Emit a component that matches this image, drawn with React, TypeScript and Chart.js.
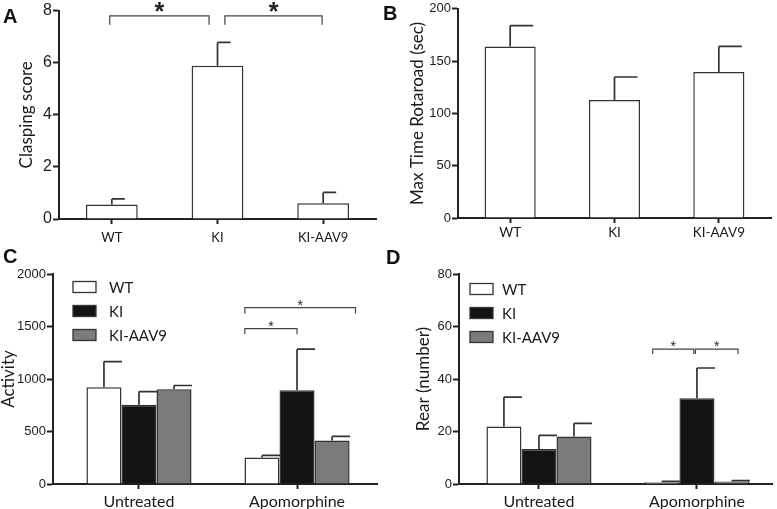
import React, { useEffect, useRef } from "react";
import { Chart, registerables } from "chart.js";

Chart.register(...registerables);

// ---------- data ----------
const groups = ["WT", "KI", "KI-AAV9"];
const claspingMean = [0.56, 5.88, 0.6];
const claspingSem = [0.21, 0.9, 0.42];
const rotarodMean = [164, 112.8, 139.6];
const rotarodSem = [20, 22, 24.4];

const treatments = ["Untreated", "Apomorphine"];
const activityWT = [922, 253];
const activityKI = [754, 894];
const activityAAV = [903, 415];
const activityWTSem = [244, 19];
const activityKISem = [126, 390];
const activityAAVSem = [35, 38];

const rearWT = [21.9, 0.7];
const rearKI = [13.3, 32.7];
const rearAAV = [18.1, 1.0];
const rearWTSem = [11.2, 0.3];
const rearKISem = [5.2, 11.5];
const rearAAVSem = [5.0, 0.3];

// axis ranges
const claspingTicks = { max: 8, step: 2 };
const rotarodTicks = { max: 200, step: 50 };
const activityTicks = { max: 2000, step: 500 };
const rearTicks = { max: 80, step: 20 };

// significance brackets (data units)
const bracketsA = [
  { from: -0.02, to: 0.92, y: 7.8, drop: 7.46 },
  { from: 1.07, to: 1.99, y: 7.8, drop: 7.46 },
];
const bracketsC = [
  { from: 0.67, to: 1.0, y: 1480, drop: 1428 },
  { from: 0.67, to: 1.37, y: 1680, drop: 1625 },
];
const bracketsD = [
  { from: 0.72, to: 0.98, y: 51.4, drop: 49.5 },
  { from: 0.99, to: 1.26, y: 51.4, drop: 49.5 },
];

// ---------- styles ----------
const TICK_FONT = "'Liberation Sans', Arial, sans-serif";
const LABEL_FONT = "Lato, 'Open Sans', sans-serif";
const AXIS = "#222222";
const OUTLINE = "#333333";
const WHITE = "#ffffff";
const BLACK = "#141414";
const GRAY = "#7b7b7b";

// ---------- plugins ----------
const errorBarPlugin = {
  id: "errorBars",
  afterDatasetsDraw(chart: any, _args: any, opts: any) {
    const { ctx } = chart;
    const ys = chart.scales.y;
    ctx.save();
    ctx.strokeStyle = opts.color || OUTLINE;
    ctx.lineWidth = opts.width || 1.7;
    chart.data.datasets.forEach((ds: any, di: number) => {
      const meta = chart.getDatasetMeta(di);
      const errs = ds.errors || [];
      meta.data.forEach((bar: any, i: number) => {
        const err = errs[i];
        if (!err) return;
        const raw = ds.data[i];
        const v = typeof raw === "number" ? raw : raw.y;
        const yTop = ys.getPixelForValue(v + err);
        const x = bar.x;
        ctx.beginPath();
        ctx.moveTo(x, bar.y);
        ctx.lineTo(x, yTop);
        ctx.moveTo(x - (opts.capLeft || 0), yTop);
        ctx.lineTo(x + opts.capRight, yTop);
        ctx.stroke();
      });
    });
    ctx.restore();
  },
};

const bracketPlugin = {
  id: "brackets",
  afterDraw(chart: any, _args: any, opts: any) {
    if (!opts.items) return;
    const { ctx } = chart;
    const xs = chart.scales.x;
    const ys = chart.scales.y;
    ctx.save();
    ctx.strokeStyle = "#444";
    ctx.lineWidth = 1.2;
    ctx.fillStyle = "#222";
    ctx.font = opts.starFont;
    ctx.textAlign = "center";
    ctx.textBaseline = "alphabetic";
    for (const b of opts.items) {
      const x1 = xs.getPixelForValue(b.from);
      const x2 = xs.getPixelForValue(b.to);
      const y = ys.getPixelForValue(b.y);
      const yd = ys.getPixelForValue(b.drop);
      ctx.beginPath();
      ctx.moveTo(x1, yd);
      ctx.lineTo(x1, y);
      ctx.lineTo(x2, y);
      ctx.lineTo(x2, yd);
      ctx.stroke();
      ctx.fillText("*", (x1 + x2) / 2, y + opts.starDy);
    }
    ctx.restore();
  },
};

const boxLegendPlugin = {
  id: "boxLegend",
  afterDraw(chart: any, _args: any, opts: any) {
    if (!opts.show) return;
    const { ctx, chartArea } = chart;
    ctx.save();
    ctx.font = opts.font;
    ctx.textBaseline = "middle";
    ctx.textAlign = "left";
    chart.data.datasets.forEach((ds: any, i: number) => {
      const x = chartArea.left + opts.dx;
      const cy = chartArea.top + opts.dy + i * opts.spacing;
      ctx.fillStyle = ds.backgroundColor;
      ctx.fillRect(x, cy - opts.boxH / 2, opts.boxW, opts.boxH);
      ctx.strokeStyle = OUTLINE;
      ctx.lineWidth = 1.3;
      ctx.strokeRect(x, cy - opts.boxH / 2, opts.boxW, opts.boxH);
      ctx.fillStyle = "#1a1a1a";
      ctx.fillText(ds.label, x + opts.boxW + opts.gap, cy + 1);
    });
    ctx.restore();
  },
};

// ---------- helpers ----------
function yAxis(cfg: {
  max: number;
  step: number;
  title: string;
  tickSize: number;
  titlePad: number;
  width: number;
}) {
  return {
    min: 0,
    max: cfg.max,
    ticks: {
      stepSize: cfg.step,
      color: "#1a1a1a",
      padding: 1,
      font: { family: TICK_FONT, size: cfg.tickSize },
      callback: (v: any) => String(v),
    },
    grid: {
      drawOnChartArea: false,
      drawTicks: true,
      tickLength: 6,
      tickWidth: 2,
      tickColor: AXIS,
    },
    border: { display: true, color: AXIS, width: 2 },
    title: {
      display: true,
      text: cfg.title,
      color: "#1a1a1a",
      font: { family: LABEL_FONT, size: 17, lineHeight: 1 },
      padding: { top: cfg.titlePad, bottom: 0 },
    },
    afterFit: (s: any) => {
      s.width = cfg.width;
    },
  };
}

function xTickCommon(size: number, pad: number, height: number) {
  return {
    grid: {
      offset: false,
      drawOnChartArea: false,
      drawTicks: true,
      tickLength: 5,
      tickWidth: 2,
      tickColor: AXIS,
    },
    border: { display: true, color: AXIS, width: 2 },
    afterFit: (s: any) => {
      s.height = height;
    },
    ticksBase: {
      color: "#1a1a1a",
      padding: pad,
      maxRotation: 0,
      autoSkip: false,
      font: { family: LABEL_FONT, size: size },
    },
  };
}

function configSingle(
  labels: string[],
  mean: number[],
  sem: number[],
  yc: any,
  layoutPad: any,
  xHeight: number,
  xFont: number,
  xPad: number,
  capRight: number,
  brackets: any[] | null,
  starFont: string,
  starDy: number
) {
  const xc = xTickCommon(xFont, xPad, xHeight);
  return {
    type: "bar",
    data: {
      labels,
      datasets: [
        {
          label: "mean",
          data: mean,
          errors: sem,
          backgroundColor: WHITE,
          borderColor: OUTLINE,
          borderWidth: 1.5,
          categoryPercentage: 0.5,
          barPercentage: 0.98,
        },
      ],
    },
    options: {
      animation: false,
      responsive: false,
      devicePixelRatio: 1,
      layout: { padding: layoutPad },
      plugins: {
        legend: { display: false },
        tooltip: { enabled: false },
        errorBars: { capRight, color: OUTLINE, width: 1.7 },
        brackets: { items: brackets, starFont, starDy },
        boxLegend: { show: false },
      },
      scales: {
        x: {
          type: "category",
          offset: true,
          grid: xc.grid,
          border: xc.border,
          ticks: xc.ticksBase,
          afterFit: xc.afterFit,
        },
        y: yc,
      },
    },
    plugins: [errorBarPlugin, bracketPlugin, boxLegendPlugin],
  };
}

function configGrouped(
  series: { label: string; color: string; values: number[]; sem: number[] }[],
  xMin: number,
  xMax: number,
  yc: any,
  layoutPad: any,
  legend: any,
  brackets: any[],
  starDy: number
) {
  const xc = xTickCommon(16, 3, 25);
  return {
    type: "bar",
    data: {
      datasets: series.map((s) => ({
        label: s.label,
        data: s.values.map((v, i) => ({ x: i, y: v })),
        errors: s.sem,
        backgroundColor: s.color,
        borderColor: OUTLINE,
        borderWidth: 1.5,
        categoryPercentage: 0.665,
        barPercentage: 1,
      })),
    },
    options: {
      animation: false,
      responsive: false,
      devicePixelRatio: 1,
      layout: { padding: layoutPad },
      plugins: {
        legend: { display: false },
        tooltip: { enabled: false },
        errorBars: { capRight: 18, color: OUTLINE, width: 1.7 },
        brackets: { items: brackets, starFont: `14px ${TICK_FONT}`, starDy },
        boxLegend: legend,
      },
      scales: {
        x: {
          type: "linear",
          min: xMin,
          max: xMax,
          offset: false,
          grid: xc.grid,
          border: xc.border,
          afterFit: xc.afterFit,
          ticks: {
            ...xc.ticksBase,
            stepSize: 1,
            includeBounds: false,
            callback: (v: any) => {
              const i = Math.round(Number(v));
              return Math.abs(Number(v) - i) < 1e-6 && i >= 0 && i < treatments.length
                ? treatments[i]
                : "";
            },
          },
        },
        y: yc,
      },
    },
    plugins: [errorBarPlugin, bracketPlugin, boxLegendPlugin],
  };
}

// ---------- components ----------
function Panel(props: { left: number; top: number; width: number; height: number; make: () => any }) {
  const ref = useRef<HTMLCanvasElement | null>(null);
  useEffect(() => {
    const chart = new Chart(ref.current as HTMLCanvasElement, props.make());
    return () => chart.destroy();
  }, []);
  return (
    <canvas
      ref={ref}
      width={props.width}
      height={props.height}
      style={{
        position: "absolute",
        left: props.left,
        top: props.top,
        width: props.width,
        height: props.height,
      }}
    />
  );
}

function Letter(props: { text: string; left: number; top: number }) {
  return (
    <div
      style={{
        position: "absolute",
        left: props.left,
        top: props.top,
        fontFamily: TICK_FONT,
        fontWeight: "bold",
        fontSize: 20,
        lineHeight: "20px",
        color: "#111",
      }}
    >
      {props.text}
    </div>
  );
}

const legendC = { show: true, dx: 20, dy: 13, spacing: 24, boxW: 23, boxH: 11, gap: 13, font: `15px ${LABEL_FONT}` };
const legendD = { show: true, dx: 11, dy: 15, spacing: 24, boxW: 23, boxH: 11, gap: 9, font: `15px ${LABEL_FONT}` };

export default function App() {
  return (
    <div
      style={{
        position: "absolute",
        left: 0,
        top: 0,
        width: 777,
        height: 509,
        background: "#ffffff",
        overflow: "hidden",
      }}
    >
      <Panel
        left={0}
        top={0}
        width={388}
        height={250}
        make={() =>
          configSingle(
            groups,
            claspingMean,
            claspingSem,
            yAxis({ ...claspingTicks, title: "Clasping score", tickSize: 16, titlePad: 18.5, width: 59 }),
            { left: 0, top: 10, right: 12, bottom: 0 },
            31,
            13,
            6,
            13,
            bracketsA,
            `bold 25px ${TICK_FONT}`,
            4
          )
        }
      />
      <Panel
        left={388}
        top={0}
        width={389}
        height={250}
        make={() =>
          configSingle(
            groups,
            rotarodMean,
            rotarodSem,
            yAxis({ ...rotarodTicks, title: "Max Time Rotaroad (sec)", tickSize: 13, titlePad: 21, width: 70 }),
            { left: 0, top: 7, right: 6, bottom: 0 },
            32,
            13.5,
            2,
            23,
            null,
            "",
            0
          )
        }
      />
      <Panel
        left={0}
        top={250}
        width={388}
        height={259}
        make={() =>
          configGrouped(
            [
              { label: "WT", color: WHITE, values: activityWT, sem: activityWTSem },
              { label: "KI", color: BLACK, values: activityKI, sem: activityKISem },
              { label: "KI-AAV9", color: GRAY, values: activityAAV, sem: activityAAVSem },
            ],
            -0.544,
            1.506,
            yAxis({ ...activityTicks, title: "Activity", tickSize: 13, titlePad: 0, width: 53 }),
            { left: 0, top: 24, right: 11, bottom: 0 },
            legendC,
            bracketsC,
            2.5
          )
        }
      />
      <Panel
        left={388}
        top={250}
        width={389}
        height={259}
        make={() =>
          configGrouped(
            [
              { label: "WT", color: WHITE, values: rearWT, sem: rearWTSem },
              { label: "KI", color: BLACK, values: rearKI, sem: rearKISem },
              { label: "KI-AAV9", color: GRAY, values: rearAAV, sem: rearAAVSem },
            ],
            -0.506,
            1.475,
            yAxis({ ...rearTicks, title: "Rear (number)", tickSize: 13, titlePad: 27, width: 71 }),
            { left: 0, top: 24, right: 5, bottom: 0 },
            legendD,
            bracketsD,
            1.5
          )
        }
      />
      <Letter text="A" left={3} top={6} />
      <Letter text="B" left={383} top={3} />
      <Letter text="C" left={3} top={246} />
      <Letter text="D" left={386} top={247} />
    </div>
  );
}
